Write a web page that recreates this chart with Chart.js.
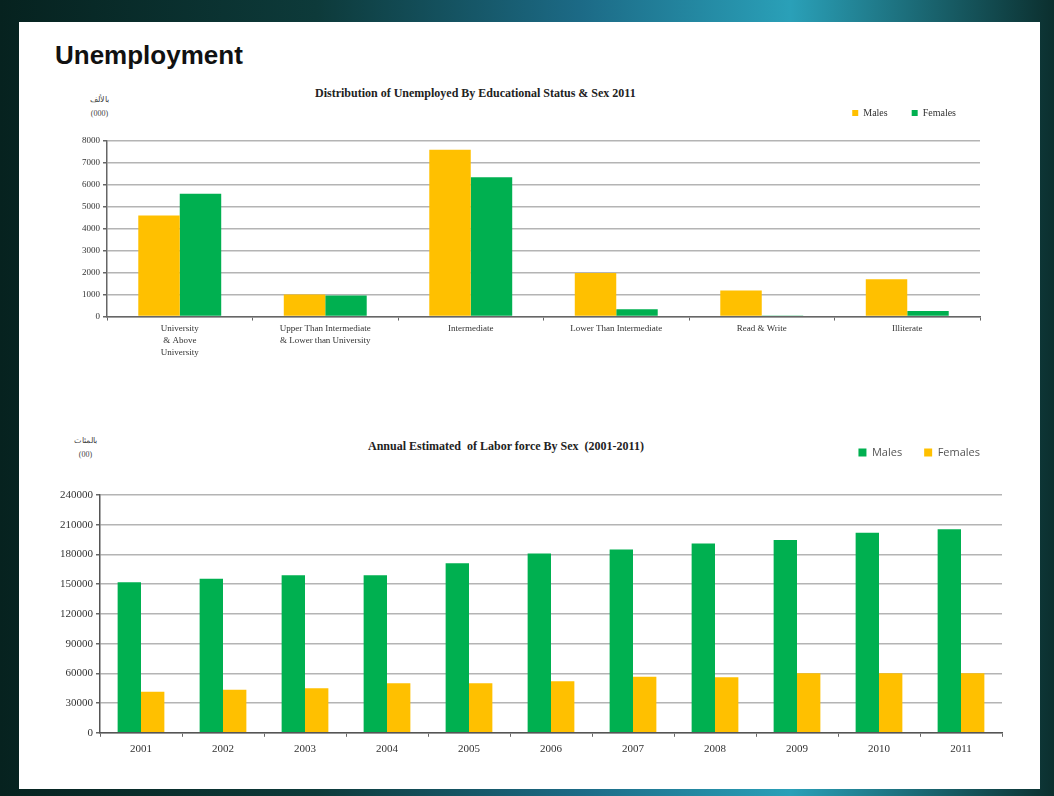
<!DOCTYPE html>
<html>
<head>
<meta charset="utf-8">
<script src="https://cdn.jsdelivr.net/npm/chart.js@4.4.1/dist/chart.umd.min.js"></script>
<style>
  html,body{margin:0;padding:0;}
  body{width:1054px;height:796px;position:relative;overflow:hidden;
    background:linear-gradient(90deg,#06221f 0%,#0d3a3a 30%,#1c6a86 55%,#2aa0b8 75%,#0b2f2e 100%);}
  #slide{position:absolute;left:19px;top:22px;width:1021px;height:767px;background:#fff;}
  .abs{position:absolute;}
  #head{left:55px;top:40px;font:bold 26px "Liberation Sans",Arial,sans-serif;color:#111;}
  .ttl{font:bold 12px "Liberation Serif",serif;color:#222;white-space:nowrap;}
  .unit{font:8px "Liberation Serif",serif;color:#444;text-align:center;line-height:14px;}
  canvas{position:absolute;}
</style>
</head>
<body>
<div id="slide"></div>
<div id="head" class="abs">Unemployment</div>
<div class="abs ttl" style="left:315px;top:86px;">Distribution of Unemployed By Educational Status &amp; Sex 2011</div>
<div class="abs unit" style="left:90px;top:93px;">بالألف<br>(000)</div>
<div class="abs ttl" style="left:368px;top:439px;">Annual Estimated&nbsp; of Labor force By Sex&nbsp; (2001-2011)</div>
<div class="abs unit" style="left:74px;top:434px;">بالمئات<br>(00)</div>
<canvas id="c1" style="left:40px;top:84px;" width="960" height="277"></canvas>
<canvas id="c2" style="left:40px;top:425px;" width="982" height="337"></canvas>
<script>
// Chart 1: unemployed by educational status & sex, 2011 (thousands)
const eduLabels = [
  ['University','& Above','University'],
  ['Upper Than Intermediate','& Lower than University'],
  'Intermediate',
  'Lower Than Intermediate',
  'Read & Write',
  'Illiterate'
];
const eduMales   = [4600, 1000, 7600, 1980, 1190, 1700];
const eduFemales = [5600,  960, 6350,  330,   50,  250];
const eduTicks   = [0,1000,2000,3000,4000,5000,6000,7000,8000];

// Chart 2: labor force by sex 2001-2011 (hundreds)
const years       = ['2001','2002','2003','2004','2005','2006','2007','2008','2009','2010','2011'];
const laborMales   = [152000,155500,159000,159000,171000,181000,185000,191000,194500,202000,205500];
const laborFemales = [41500,43500,45000,50000,50000,52000,56500,56000,60000,60000,60000];
const laborTicks   = [0,30000,60000,90000,120000,150000,180000,210000,240000];

const YELLOW = '#FFC000', GREEN = '#00B050';
const serif = '"Liberation Serif", "Times New Roman", serif';

const fixedTicks = (vals)=> (axis)=>{ axis.ticks = vals.map(v=>({value:v})); };
// extra room between legend and plot
const legendGap = (px)=>({
  id:'legendGap',
  beforeInit(chart){
    const fit = chart.legend.fit;
    chart.legend.fit = function(){ fit.call(this); this.height += px; };
  }
});

new Chart(document.getElementById('c1'), {
  type:'bar',
  data:{
    labels: eduLabels,
    datasets:[
      {label:'Males',   data: eduMales,   backgroundColor: YELLOW},
      {label:'Females', data: eduFemales, backgroundColor: GREEN}
    ]
  },
  plugins:[legendGap(13)],
  options:{
    responsive:false, animation:false,
    layout:{padding:{right:20, top:0}},
    datasets:{bar:{categoryPercentage:0.57, barPercentage:1}},
    plugins:{
      tooltip:{enabled:false},
      legend:{display:true, position:'top', align:'end',
        labels:{usePointStyle:true, pointStyle:'rect', boxWidth:6, boxHeight:6,
          padding:24, color:'#333', font:{family:serif, size:10}}}
    },
    scales:{
      x:{
        grid:{drawOnChartArea:false, drawTicks:true, tickLength:4, offset:true, color:'#666'},
        border:{color:'#666', width:1.5},
        ticks:{color:'#333', font:{family:serif, size:9, lineHeight:1.35}, maxRotation:0, autoSkip:false, padding:2}
      },
      y:{
        min:0, max:8000,
        afterBuildTicks: fixedTicks(eduTicks),
        afterFit:(a)=>{ a.width = 67; },
        grid:{color:'#b4b4b4', lineWidth:1.5, tickLength:4, tickColor:'#666'},
        border:{color:'#666', width:1.5},
        ticks:{color:'#333', font:{family:serif, size:9}, padding:3, callback:(v)=>String(v)}
      }
    }
  }
});

new Chart(document.getElementById('c2'), {
  type:'bar',
  data:{
    labels: years,
    datasets:[
      {label:'Males',   data: laborMales,   backgroundColor: GREEN},
      {label:'Females', data: laborFemales, backgroundColor: YELLOW}
    ]
  },
  plugins:[legendGap(27)],
  options:{
    responsive:false, animation:false,
    layout:{padding:{right:20, top:0}},
    datasets:{bar:{categoryPercentage:0.57, barPercentage:1}},
    plugins:{
      tooltip:{enabled:false},
      legend:{display:true, position:'top', align:'end',
        labels:{boxWidth:8, boxHeight:8, padding:22, color:'#555',
          font:{family:'"Open Sans", sans-serif', size:11}}}
    },
    scales:{
      x:{
        grid:{drawOnChartArea:false, drawTicks:true, tickLength:4, offset:true, color:'#666'},
        border:{color:'#555', width:1.5},
        ticks:{color:'#333', font:{family:serif, size:11}, maxRotation:0, autoSkip:false, padding:6}
      },
      y:{
        min:0, max:240000,
        afterBuildTicks: fixedTicks(laborTicks),
        afterFit:(a)=>{ a.width = 60; },
        grid:{color:'#b4b4b4', lineWidth:1.5, tickLength:4, tickColor:'#666'},
        border:{color:'#555', width:1.5},
        ticks:{color:'#333', font:{family:serif, size:11}, padding:3, callback:(v)=>String(v)}
      }
    }
  }
});
</script>
</body>
</html>
